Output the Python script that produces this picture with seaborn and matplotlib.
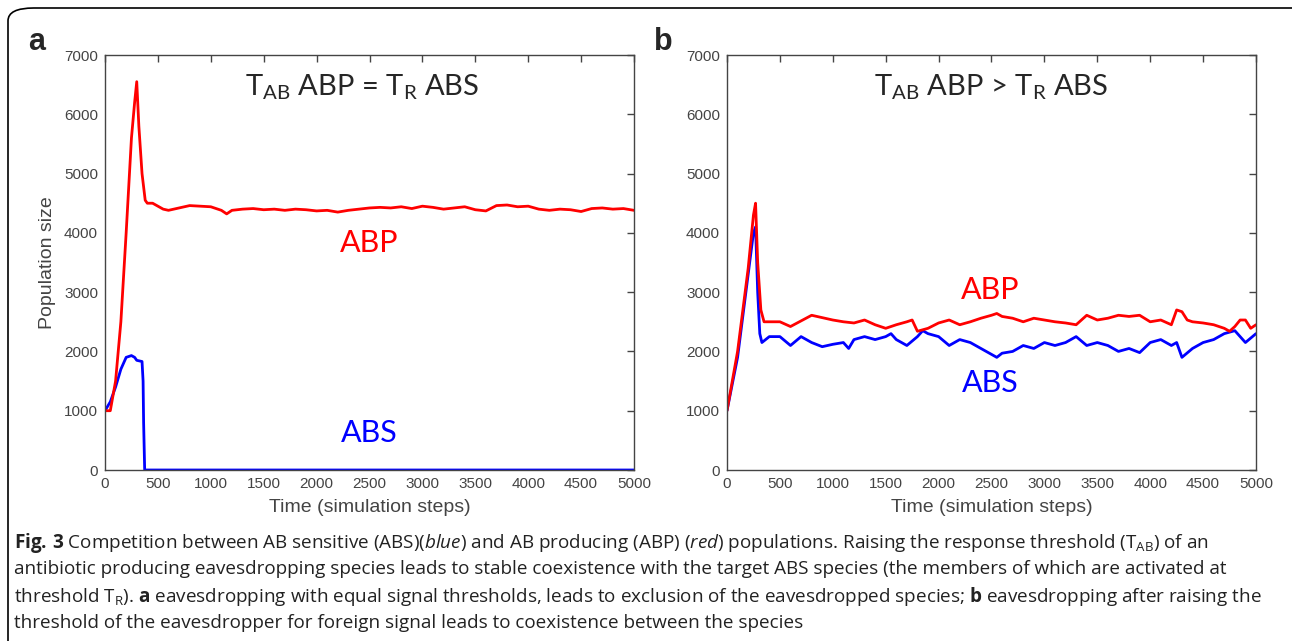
import matplotlib
matplotlib.use("Agg")
import matplotlib.pyplot as plt
from matplotlib.patches import FancyBboxPatch
import pandas as pd
import seaborn as sns

# panel a: equal thresholds
abp_a_t = [0, 50, 100, 150, 200, 250, 280, 300, 320, 350, 380, 400, 450, 500, 550, 600,
           700, 800, 900, 1000, 1100, 1150] + list(range(1200, 5001, 100))
abp_a_v = [1000, 1000, 1500, 2500, 4000, 5600, 6200, 6550, 5800, 5000, 4550, 4500, 4500, 4450,
           4400, 4380, 4420, 4460, 4450, 4440, 4380, 4320,
           4380, 4400, 4410, 4390, 4400, 4380, 4400, 4390, 4370, 4380, 4350, 4380, 4400, 4420,
           4430, 4420, 4440, 4410, 4450, 4430, 4400, 4420, 4440, 4390, 4370, 4460, 4470, 4440,
           4450, 4400, 4380, 4400, 4390, 4360, 4410, 4420, 4400, 4410, 4380]
abs_a_t = [0, 50, 100, 150, 200, 250, 280, 300, 350, 360, 365, 375, 500, 1000, 2000, 3000, 4000, 5000]
abs_a_v = [1000, 1150, 1400, 1700, 1900, 1930, 1900, 1850, 1830, 1500, 800, 0, 0, 0, 0, 0, 0, 0]

# panel b: raised threshold
abp_b_t = [0, 100, 200, 250, 270, 290, 320, 350, 500, 600, 800, 1000, 1100, 1200, 1300, 1400,
           1500, 1600, 1700, 1750, 1800, 1900, 2000, 2100, 2200, 2300, 2400, 2500, 2550, 2600,
           2700, 2800, 2900, 3000, 3100, 3200, 3300, 3400, 3500, 3600, 3700, 3800, 3900, 4000,
           4100, 4200, 4250, 4300, 4350, 4400, 4500, 4600, 4700, 4750, 4800, 4850, 4900, 4950, 5000]
abp_b_v = [1000, 2000, 3400, 4300, 4500, 3500, 2700, 2500, 2500, 2420, 2610, 2530, 2500, 2480,
           2530, 2450, 2390, 2450, 2500, 2530, 2340, 2390, 2480, 2530, 2450, 2500, 2560, 2610,
           2640, 2590, 2560, 2500, 2560, 2530, 2500, 2480, 2450, 2610, 2530, 2560, 2610, 2590,
           2610, 2500, 2530, 2450, 2700, 2670, 2530, 2500, 2480, 2450, 2390, 2340, 2420, 2530,
           2530, 2390, 2450]
abs_b_t = [0, 100, 200, 250, 270, 290, 310, 330, 400, 500, 600, 700, 800, 900, 1000, 1100, 1150,
           1200, 1300, 1400, 1500, 1550, 1600, 1700, 1800, 1850, 1900, 2000, 2100, 2200, 2300,
           2400, 2500, 2550, 2600, 2700, 2800, 2900, 3000, 3100, 3200, 3300, 3400, 3500, 3600,
           3700, 3800, 3900, 4000, 4100, 4200, 4250, 4300, 4400, 4500, 4600, 4700, 4800, 4850,
           4900, 5000]
abs_b_v = [1000, 1900, 3300, 4000, 4100, 3000, 2300, 2150, 2250, 2250, 2100, 2250, 2150, 2080,
           2120, 2150, 2050, 2200, 2250, 2200, 2250, 2300, 2200, 2100, 2250, 2350, 2300, 2250,
           2100, 2200, 2150, 2050, 1950, 1900, 1970, 2000, 2100, 2050, 2150, 2100, 2150, 2250,
           2100, 2150, 2100, 2000, 2050, 1980, 2150, 2200, 2100, 2150, 1900, 2050, 2150, 2200,
           2300, 2350, 2250, 2150, 2300]

panel_titles = [r"T$_{\mathregular{AB}}$ ABP = T$_{\mathregular{R}}$ ABS",
                r"T$_{\mathregular{AB}}$ ABP > T$_{\mathregular{R}}$ ABS"]
panel_letters = ["a", "b"]
x_ticks = list(range(0, 5001, 500))
y_ticks = list(range(0, 7001, 1000))

caption_lines = [
    r"$\mathbf{Fig.\,3}$ Competition between AB sensitive (ABS)($\mathit{blue}$) and AB producing (ABP) ($\mathit{red}$) populations. Raising the response threshold (T$_{\mathrm{AB}}$) of an",
    "antibiotic producing eavesdropping species leads to stable coexistence with the target ABS species (the members of which are activated at",
    r"threshold T$_{\mathrm{R}}$). $\mathbf{a}$ eavesdropping with equal signal thresholds, leads to exclusion of the eavesdropped species; $\mathbf{b}$ eavesdropping after raising the",
    "threshold of the eavesdropper for foreign signal leads to coexistence between the species",
]

sns.set_style("white")
cap_font = "Open Sans"
plt.rcParams["font.family"] = ["Liberation Sans", "DejaVu Sans"]
plt.rcParams["mathtext.fontset"] = "custom"
plt.rcParams["mathtext.rm"] = cap_font
plt.rcParams["mathtext.it"] = cap_font + ":italic"
plt.rcParams["mathtext.bf"] = cap_font + ":bold"

fig = plt.figure(figsize=(12.92, 6.41), dpi=100)

# rounded frame around the figure
fig.patches.append(FancyBboxPatch((8 / 1292, -0.05), 1.05, 1.05 - 8 / 641,
                                  boxstyle="round,pad=0,rounding_size=0.02",
                                  transform=fig.transFigure, fill=False,
                                  edgecolor="black", linewidth=1.2))

data = [
    pd.concat([pd.DataFrame({"t": abp_a_t, "n": abp_a_v, "pop": "ABP"}),
               pd.DataFrame({"t": abs_a_t, "n": abs_a_v, "pop": "ABS"})]),
    pd.concat([pd.DataFrame({"t": abp_b_t, "n": abp_b_v, "pop": "ABP"}),
               pd.DataFrame({"t": abs_b_t, "n": abs_b_v, "pop": "ABS"})]),
]
lefts = [105 / 1292, 727 / 1292]
label_pos = [[(2500, 3830), (2500, 620)], [(2490, 3040), (2490, 1470)]]
title_x = [2430, 2495]

for i in range(2):
    ax = fig.add_axes([lefts[i], 1 - 470 / 641, 529 / 1292, 415 / 641])
    sns.lineplot(data=data[i], x="t", y="n", hue="pop", hue_order=["ABS", "ABP"],
                 palette={"ABP": "#ff0000", "ABS": "#0000ff"}, estimator=None,
                 sort=False, linewidth=2, legend=False, ax=ax)
    ax.set_xlim(0, 5000)
    ax.set_ylim(0, 7000)
    ax.set_xticks(x_ticks)
    ax.set_yticks(y_ticks)
    ax.tick_params(direction="in", top=True, right=True, length=5, width=1,
                   labelsize=11, colors="#444444", pad=5)
    for s in ax.spines.values():
        s.set_color("#444444")
        s.set_linewidth(1)
    ax.set_xlabel("Time (simulation steps)", fontsize=14, color="#444444", labelpad=6)
    ax.set_ylabel("Population size" if i == 0 else "", fontsize=14, color="#444444",
                  labelpad=6)
    ax.text(title_x[i], 6460, panel_titles[i], ha="center", va="center", fontsize=21,
            family="Lato")
    ax.text(*label_pos[i][0], "ABP", color="#ff0000", ha="center", va="center",
            fontsize=22, family="Lato")
    ax.text(*label_pos[i][1], "ABS", color="#0000ff", ha="center", va="center",
            fontsize=22, family="Lato")
    fig.text([37 / 1292, 663 / 1292][i], 1 - 42 / 641, panel_letters[i], fontsize=22,
             fontweight="bold", family="Liberation Sans", ha="center", va="center")

for k, line in enumerate(caption_lines):
    fig.text(14 / 1292, 1 - (543 + 26.5 * k) / 641, line, fontsize=13.6, family=cap_font,
             ha="left", va="center", color="#222222")

fig.savefig("out.png", dpi=100)
